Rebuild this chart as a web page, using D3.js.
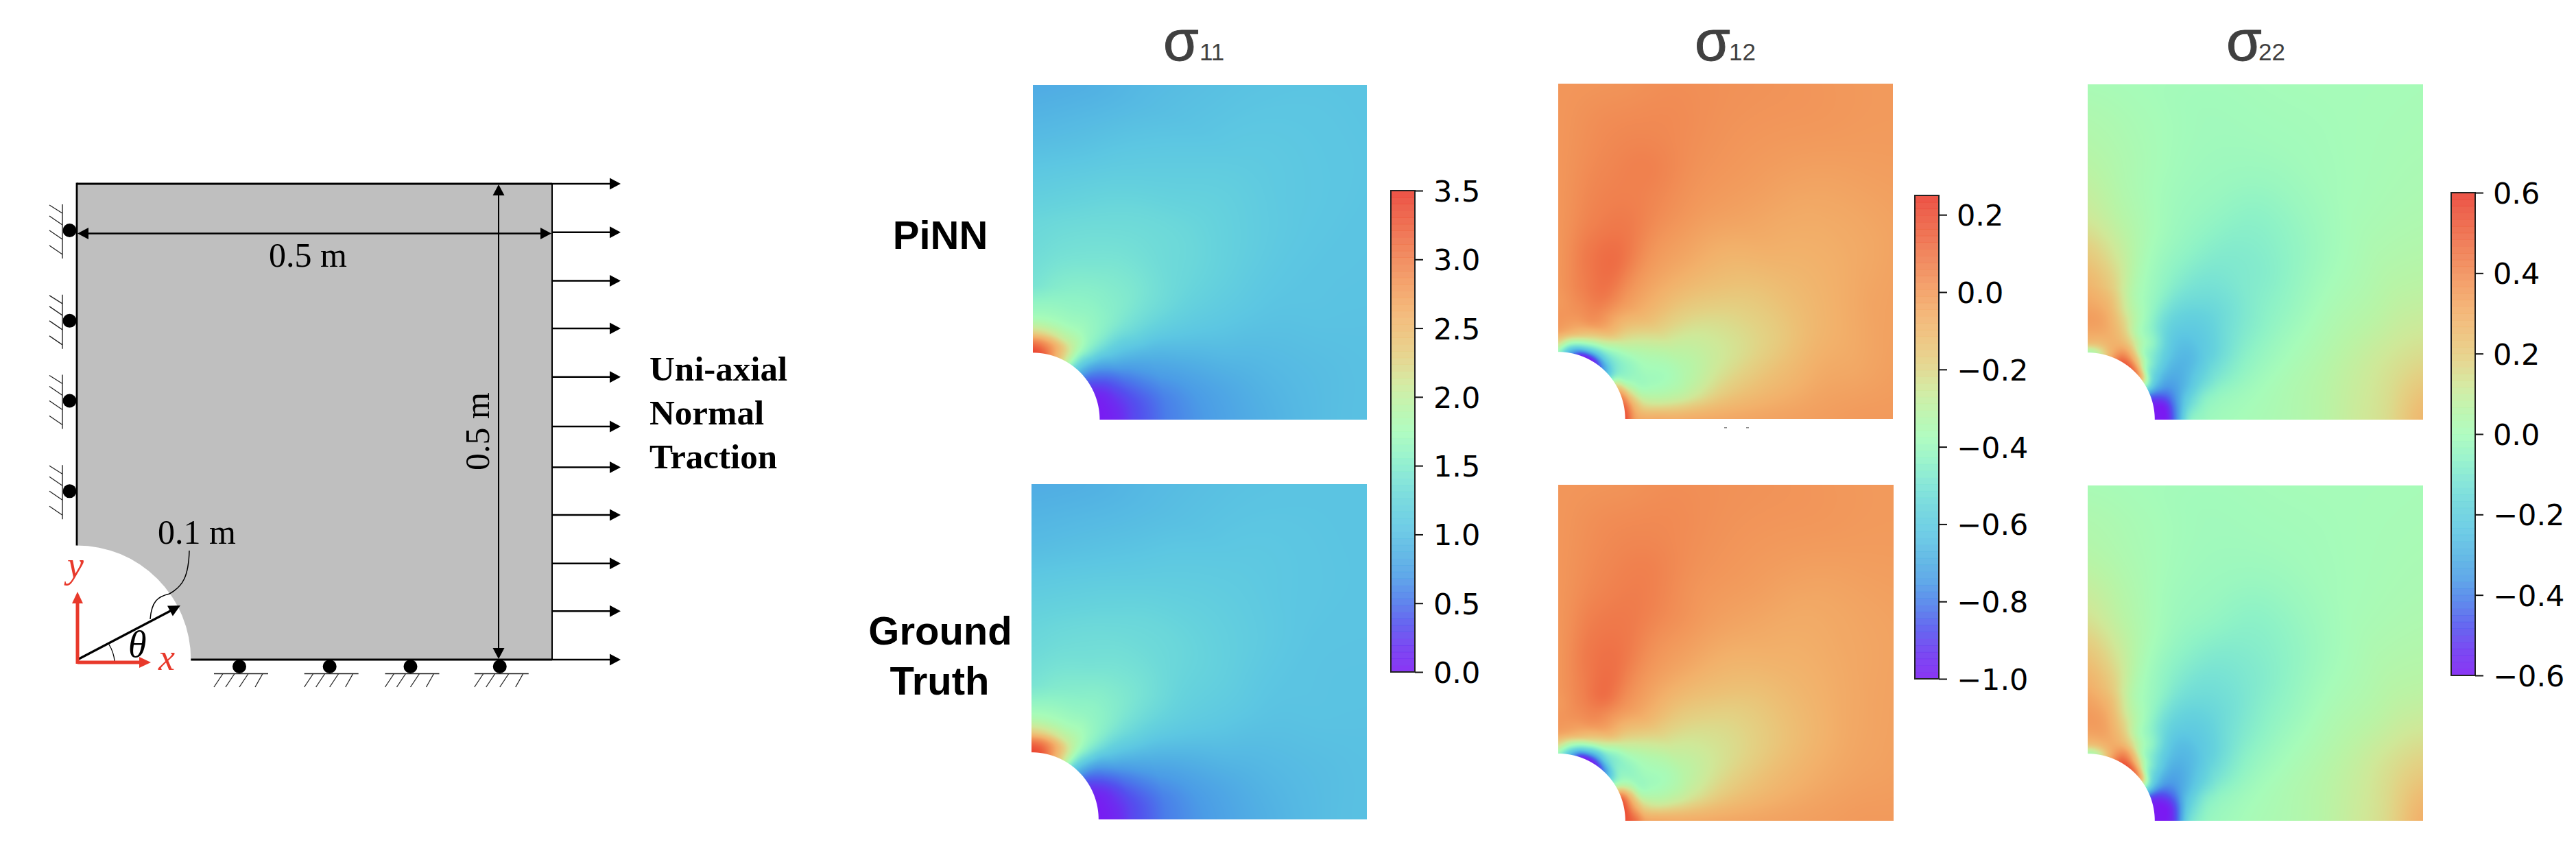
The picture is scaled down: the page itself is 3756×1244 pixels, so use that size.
<!DOCTYPE html>
<html>

<head>
  <meta charset="utf-8">
  <title>Plate with a hole: stress fields, PiNN and ground truth</title>
  <script src="https://d3js.org/d3.v7.min.js"></script>
  <style>
    body {
      margin: 0;
      background: #fff;
    }

    svg {
      display: block;
    }

    .serif {
      font-family: "Liberation Serif", "Times New Roman", serif;
    }

    .sans {
      font-family: "Liberation Sans", Arial, sans-serif;
    }

    .tick text {
      font-family: "DejaVu Sans", sans-serif;
      font-size: 43px;
    }
  </style>
</head>

<body>
  <div id="chart"></div>
  <script>
    // plate diagram, positions in metres (the hole is drawn a bit larger than its 0.1 m label)
    const plateSize = 0.5;
    const holeRadius = 0.1;
    const diagramHole = 0.12;
    const tractionY = [0.5, 0.449, 0.398, 0.348, 0.297, 0.245, 0.202, 0.152, 0.101, 0.051, 0];
    const leftRollerY = [0.451, 0.356, 0.272, 0.177];
    const bottomRollerX = [0.171, 0.266, 0.351, 0.445];
    const tractionLines = ["Uni-axial", "Normal", "Traction"];

    const rowLabels = ["PiNN", "Ground", "Truth"];

    // colour map, position 0-1
    const cmapPos = [0, .05, .1, .15, .2, .25, .3, .35, .4, .45, .5, .55, .6, .65, .7, .75, .8, .85, .9, .95, 1];
    const cmapColors = ["#7a1af2", "#6a30f0", "#5350ee", "#4a78ea", "#4b9ce6", "#52b2e3", "#5cc6e2", "#66d3dc",
      "#78e2d4", "#8ef2c6", "#a6fbb9", "#b8f4a6", "#cfe898", "#e2d284", "#ecc075", "#f2b06a", "#f29a5c",
      "#f08450", "#ee6c44", "#ec5438", "#ea3c2e"];

    // field tables: one row per radius (in hole radii), one column per angle (degrees)
    const rhoStops = [1, 1.15, 1.3, 1.5, 1.75, 2, 2.5, 3, 3.5, 4, 4.5, 5, 6, 7.1];
    const thetaStops = [0, 10, 20, 30, 40, 50, 60, 70, 80, 90];

    const s11Pinn = [
      [.02, .02, .07, .28, .6, 1.2, 2, 2.6, 3.2, 3.45],
      [.06, .08, .16, .38, .7, 1.3, 2, 2.5, 2.85, 3.05],
      [.14, .18, .3, .5, .85, 1.45, 1.9, 2.05, 2.2, 2.3],
      [.3, .32, .45, .68, 1.05, 1.5, 1.72, 1.75, 1.78, 1.8],
      [.42, .45, .6, .82, 1.15, 1.5, 1.62, 1.62, 1.62, 1.6],
      [.55, .58, .72, .92, 1.25, 1.48, 1.55, 1.55, 1.5, 1.42],
      [.68, .72, .85, 1.05, 1.28, 1.42, 1.45, 1.42, 1.38, 1.32],
      [.78, .82, .95, 1.1, 1.25, 1.32, 1.35, 1.33, 1.29, 1.25],
      [.86, .9, .98, 1.1, 1.22, 1.28, 1.28, 1.24, 1.17, 1.12],
      [.93, .95, 1, 1.07, 1.17, 1.22, 1.18, 1.12, 1.04, 1],
      [.98, .98, 1.02, 1.05, 1.12, 1.16, 1.1, 1.03, .95, .9],
      [1, 1, 1.02, 1.04, 1.08, 1.1, 1.03, .96, .87, .82],
      [1, 1, 1.02, 1.03, 1.05, 1.05, 1, .93, .85, .8],
      [1, 1, 1.02, 1.03, 1.03, 1.03, 1, .93, .85, .8]
    ];
    const s11Truth = [
      [.02, .02, .07, .25, .58, 1.15, 2, 2.65, 3.25, 3.45],
      [.06, .08, .15, .36, .68, 1.28, 2, 2.55, 2.95, 3.1],
      [.14, .18, .28, .5, .83, 1.43, 1.9, 2.1, 2.25, 2.35],
      [.3, .32, .45, .68, 1.05, 1.5, 1.75, 1.78, 1.82, 1.85],
      [.42, .45, .6, .84, 1.17, 1.5, 1.62, 1.62, 1.62, 1.6],
      [.55, .58, .72, .94, 1.24, 1.47, 1.55, 1.52, 1.48, 1.42],
      [.68, .72, .85, 1.05, 1.26, 1.4, 1.42, 1.38, 1.35, 1.3],
      [.78, .82, .95, 1.1, 1.22, 1.3, 1.32, 1.3, 1.26, 1.22],
      [.86, .9, .98, 1.1, 1.2, 1.25, 1.25, 1.2, 1.14, 1.1],
      [.93, .95, 1, 1.06, 1.15, 1.18, 1.15, 1.08, 1.02, .98],
      [.98, .98, 1.02, 1.04, 1.1, 1.12, 1.08, 1, .94, .9],
      [1, 1, 1.02, 1.03, 1.06, 1.08, 1.02, .95, .87, .83],
      [1, 1, 1.02, 1.03, 1.04, 1.04, 1, .93, .85, .81],
      [1, 1, 1.02, 1.03, 1.03, 1.03, 1, .93, .85, .81]
    ];

    const s12Pinn = [
      [.2, .15, .03, -.2, -.55, -.8, -.98, -.95, -.7, -.4],
      [-.01, -.08, -.22, -.38, -.48, -.55, -.58, -.5, -.38, -.2],
      [-.05, -.22, -.36, -.41, -.43, -.4, -.3, -.2, -.1, -.03],
      [-.05, -.27, -.38, -.38, -.35, -.25, -.09, 0, 0, .01],
      [-.06, -.28, -.37, -.35, -.27, -.16, -.04, .06, .04, 0],
      [-.05, -.26, -.33, -.3, -.2, -.09, 0, .1, .07, .01],
      [-.04, -.18, -.26, -.25, -.17, -.07, .01, .12, .09, .01],
      [-.03, -.13, -.21, -.2, -.13, -.05, .01, .09, .07, .01],
      [-.02, -.09, -.16, -.15, -.1, -.04, .02, .07, .06, .01],
      [-.01, -.05, -.1, -.1, -.06, -.02, .02, .07, .05, .01],
      [0, -.04, -.06, -.07, -.05, -.01, .02, .05, .04, .01],
      [0, -.02, -.03, -.05, -.04, -.005, .02, .04, .02, .01],
      [0, -.005, -.01, -.02, -.01, .01, .02, .02, .01, .01],
      [0, 0, 0, 0, 0, 0, 0, 0, 0, 0]
    ];
    const s12Truth = [
      [.2, .2, .12, -.28, -.6, -.85, -.98, -.95, -.65, -.4],
      [.12, -.02, -.15, -.36, -.46, -.55, -.62, -.52, -.36, -.2],
      [-.02, -.2, -.36, -.41, -.43, -.42, -.3, -.18, -.08, -.03],
      [-.04, -.27, -.38, -.38, -.35, -.25, -.08, 0, .01, .01],
      [-.05, -.27, -.36, -.34, -.26, -.14, -.02, .07, .05, 0],
      [-.05, -.24, -.31, -.28, -.19, -.07, .02, .12, .07, .01],
      [-.04, -.17, -.24, -.23, -.16, -.06, .02, .11, .09, .01],
      [-.03, -.12, -.19, -.19, -.12, -.04, .02, .09, .08, .01],
      [-.02, -.08, -.14, -.14, -.09, -.03, .03, .08, .06, .01],
      [-.01, -.05, -.09, -.09, -.06, -.02, .02, .07, .05, .01],
      [0, -.03, -.05, -.06, -.05, -.01, .02, .05, .04, .01],
      [0, -.02, -.03, -.04, -.04, -.005, .02, .04, .02, .01],
      [0, -.005, -.01, -.02, -.01, .01, .02, .02, .01, .01],
      [0, 0, 0, 0, 0, 0, 0, 0, 0, 0]
    ];

    const s22Pinn = [
      [-.6, -.6, -.45, -.05, .35, .5, .5, .3, .1, .02],
      [-.6, -.58, -.42, -.2, -.02, .22, .35, .3, .25, .25],
      [-.42, -.42, -.38, -.28, -.12, 0, .18, .27, .31, .32],
      [-.1, -.2, -.3, -.3, -.2, -.05, .03, .2, .32, .35],
      [-.03, -.08, -.2, -.28, -.25, -.15, -.02, .1, .27, .32],
      [-.01, -.04, -.13, -.22, -.23, -.17, -.05, .04, .2, .28],
      [.01, -.01, -.06, -.12, -.16, -.13, -.06, .01, .12, .2],
      [.03, .02, -.02, -.07, -.1, -.1, -.05, 0, .06, .12],
      [.06, .05, .01, -.04, -.08, -.08, -.04, -.01, .03, .08],
      [.11, .09, .04, -.01, -.05, -.06, -.03, -.01, .02, .05],
      [.16, .13, .06, .01, -.02, -.03, -.02, -.01, .01, .03],
      [.27, .16, .08, .03, 0, -.01, -.01, -.01, 0, .01],
      [.28, .16, .07, .03, .01, 0, 0, 0, 0, 0],
      [.28, .16, .06, .02, .01, 0, 0, 0, 0, 0]
    ];
    const s22Truth = [
      [-.6, -.6, -.5, -.08, .35, .52, .52, .32, .1, .02],
      [-.6, -.6, -.48, -.22, -.02, .22, .38, .32, .27, .25],
      [-.5, -.5, -.42, -.3, -.13, 0, .18, .28, .33, .33],
      [-.16, -.24, -.32, -.32, -.22, -.06, .03, .2, .33, .36],
      [-.05, -.1, -.22, -.28, -.26, -.15, -.02, .1, .28, .34],
      [-.02, -.05, -.14, -.22, -.23, -.17, -.05, .04, .21, .3],
      [.01, -.01, -.06, -.12, -.16, -.14, -.07, .01, .13, .22],
      [.03, .02, -.02, -.07, -.11, -.11, -.06, 0, .07, .14],
      [.06, .05, .01, -.04, -.08, -.08, -.04, -.01, .04, .09],
      [.11, .09, .04, -.01, -.05, -.06, -.03, -.01, .02, .05],
      [.17, .14, .06, .01, -.02, -.03, -.02, -.01, .01, .03],
      [.3, .18, .08, .03, 0, -.01, -.01, -.01, 0, .01],
      [.3, .18, .07, .03, .01, 0, 0, 0, 0, 0],
      [.3, .18, .06, .02, .01, 0, 0, 0, 0, 0]
    ];

    // tick labels of the three colour bars
    const s11Ticks = [0, 0.5, 1, 1.5, 2, 2.5, 3, 3.5];
    const s12Ticks = [-1, -0.8, -0.6, -0.4, -0.2, 0, 0.2];
    const s22Ticks = [-0.6, -0.4, -0.2, 0, 0.2, 0.4, 0.6];

    const columns = [
      { name: "11", x: 1696, subX: 1749, domain: [0, 3.5], ticks: s11Ticks, fmt: d3.format(".1f"),
        bar: { x: 2028, top: 278, bottom: 980 }, labelX: 2090,
        pinn: { table: s11Pinn, box: [1506, 1993, 124, 612] }, truth: { table: s11Truth, box: [1504, 1993, 706, 1195] } },
      { name: "12", x: 2471, subX: 2521, domain: [-1, 0.25], ticks: s12Ticks, fmt: d3.format(".1f"),
        bar: { x: 2792, top: 285, bottom: 990 }, labelX: 2853,
        pinn: { table: s12Pinn, box: [2272, 2760, 122, 611] }, truth: { table: s12Truth, box: [2272, 2761, 707, 1197] } },
      { name: "22", x: 3246, subX: 3293, domain: [-0.6, 0.6], ticks: s22Ticks, fmt: d3.format(".1f"),
        bar: { x: 3574, top: 281, bottom: 985 }, labelX: 3635,
        pinn: { table: s22Pinn, box: [3044, 3533, 123, 612] }, truth: { table: s22Truth, box: [3044, 3533, 708, 1197] } }
    ];

    const svg = d3.select("#chart").append("svg")
      .attr("width", 3756)
      .attr("height", 1244)
      .attr("viewBox", [0, 0, 3756, 1244]);

    // ---- plate diagram ----
    const px = d3.scaleLinear().domain([0, plateSize]).range([112, 805]);
    const py = d3.scaleLinear().domain([0, plateSize]).range([962, 268]);
    const diagram = svg.append("g");

    function triangle(g, x, y, angle, len, halfW, fill) {
      // tip sits on x,y
      g.append("path")
        .attr("d", `M0,0L${-len},${-halfW}L${-len},${halfW}Z`)
        .attr("transform", `translate(${x},${y}) rotate(${angle})`)
        .attr("fill", fill);
    }

    function seg(g, x1, y1, x2, y2, w, stroke) {
      g.append("line")
        .attr("x1", x1).attr("y1", y1).attr("x2", x2).attr("y2", y2)
        .attr("stroke", stroke || "#000").attr("stroke-width", w);
    }

    const rx = px(diagramHole) - px(0);
    const ry = py(0) - py(diagramHole);
    diagram.append("path")
      .attr("d", `M${px(0)},${py(plateSize)}H${px(plateSize)}V${py(0)}H${px(diagramHole)}` +
        `A${rx},${ry} 0 0 0 ${px(0)},${py(diagramHole)}Z`)
      .attr("fill", "#bfbfbf");
    seg(diagram, px(0), py(plateSize), px(plateSize), py(plateSize), 3);
    seg(diagram, px(0), py(plateSize) - 1.5, px(0), py(diagramHole), 2.8);
    seg(diagram, px(plateSize), py(plateSize), px(plateSize), py(0), 2);
    seg(diagram, px(diagramHole), py(0), px(plateSize), py(0), 3);

    tractionY.forEach(d => {
      seg(diagram, px(plateSize), py(d), 895, py(d), 2.5);
      triangle(diagram, 905, py(d), 0, 16, 8.5, "#000");
    });

    leftRollerY.forEach(d => {
      const y = py(d);
      diagram.append("circle").attr("cx", 101.5).attr("cy", y).attr("r", 10).attr("fill", "#000");
      seg(diagram, 91, y - 38, 91, y + 41, 1.5, "#333");
      [[-37, -25], [-21, -8], [0, 13], [22, 35]].forEach(t => seg(diagram, 72, y + t[0], 91, y + t[1], 1.3, "#222"));
    });

    bottomRollerX.forEach(d => {
      const x = px(d);
      diagram.append("circle").attr("cx", x).attr("cy", 972).attr("r", 10).attr("fill", "#000");
      seg(diagram, x - 37, 982.5, x + 42, 982.5, 1.5, "#222");
      [[-24, -37], [-7, -20], [13, 0], [34, 23]].forEach(t => seg(diagram, x + t[0], 982.5, x + t[1], 1002, 1.3, "#222"));
    });

    // dimension arrows
    seg(diagram, 125, 340.5, 792, 340.5, 2.7);
    triangle(diagram, 113, 340.5, 180, 16, 8.5, "#000");
    triangle(diagram, 804, 340.5, 0, 16, 8.5, "#000");
    seg(diagram, 727, 282, 727, 948, 2);
    triangle(diagram, 727, 269, -90, 16, 8.5, "#000");
    triangle(diagram, 727, 961, 90, 16, 8.5, "#000");

    diagram.append("text").attr("class", "serif").attr("x", 392).attr("y", 389)
      .attr("font-size", 50).text("0.5 m");
    diagram.append("text").attr("class", "serif")
      .attr("transform", "translate(713,686) rotate(-90)")
      .attr("font-size", 50).text("0.5 m");
    diagram.append("text").attr("class", "serif").attr("x", 230).attr("y", 793)
      .attr("font-size", 50).text("0.1 m");

    tractionLines.forEach((d, i) => {
      diagram.append("text").attr("class", "serif").attr("x", 947).attr("y", 555 + i * 64)
        .attr("font-size", 51).attr("font-weight", "bold").text(d);
    });

    // radius arrow, angle arc, leader
    seg(diagram, 113, 962, 254, 888, 3.2);
    triangle(diagram, 263, 883, -27.7, 17, 8.5, "#000");
    diagram.append("path").attr("d", "M159,940A55,55 0 0 1 167,964").attr("fill", "none")
      .attr("stroke", "#000").attr("stroke-width", 1.3);
    diagram.append("path")
      .attr("d", "M276,803C275,840 267,855 247,866C230,870 221,877 219,903")
      .attr("fill", "none").attr("stroke", "#000").attr("stroke-width", 1.5);

    // red x, y axes
    const red = "#e8392b";
    seg(diagram, 113, 966, 205, 966, 5, red);
    triangle(diagram, 220, 966, 0, 17, 8, red);
    seg(diagram, 113, 968, 113, 878, 5, red);
    triangle(diagram, 113, 863, -90, 17, 8, red);
    diagram.append("text").attr("class", "serif").attr("x", 98).attr("y", 842)
      .attr("font-size", 54).attr("font-style", "italic").attr("fill", red).text("y");
    diagram.append("text").attr("class", "serif").attr("x", 231).attr("y", 977)
      .attr("font-size", 54).attr("font-style", "italic").attr("fill", red).text("x");
    diagram.append("text").attr("class", "serif").attr("x", 187).attr("y", 958)
      .attr("font-size", 54).attr("font-style", "italic").text("θ");

    // ---- row labels ----
    const rowY = [363, 939.5, 1013];
    rowLabels.forEach((d, i) => {
      svg.append("text").attr("class", "sans")
        .attr("x", [1371, 1371, 1370][i]).attr("y", rowY[i])
        .attr("text-anchor", "middle")
        .attr("font-size", 58).attr("font-weight", "bold").text(d);
    });

    // ---- heat maps ----
    const colorAt = d3.scaleLinear().domain(cmapPos).range(cmapColors).clamp(true);
    const lut = d3.range(1024).map(i => d3.rgb(colorAt(i / 1023)));
    const rhoIndex = d3.scaleLinear().domain(rhoStops).range(d3.range(rhoStops.length)).clamp(true);
    const thetaIndex = d3.scaleLinear().domain(thetaStops).range(d3.range(thetaStops.length)).clamp(true);

    function cubic(a, b, c, d, t) {
      return b + 0.5 * t * (c - a + t * (2 * a - 5 * b + 4 * c - d + t * (3 * (b - c) + d - a)));
    }

    function sample(table, r, a) {
      const i = Math.min(Math.floor(r), table.length - 2), fi = r - i;
      const j = Math.min(Math.floor(a), table[0].length - 2), fj = a - j;
      const row = k => {
        const q = table[Math.max(0, Math.min(table.length - 1, k))];
        const at = n => q[Math.max(0, Math.min(q.length - 1, n))];
        return cubic(at(j - 1), at(j), at(j + 1), at(j + 2), fj);
      };
      return cubic(row(i - 1), row(i), row(i + 1), row(i + 2), fi);
    }

    function drawField(table, box, domain) {
      const [x0, x1, y0, y1] = box;
      const w = x1 - x0, h = y1 - y0;
      const toX = d3.scaleLinear().domain([0, w]).range([0, plateSize / holeRadius]);
      const toY = d3.scaleLinear().domain([h, 0]).range([0, plateSize / holeRadius]);
      const toPos = d3.scaleLinear().domain(domain).range([0, 1]).clamp(true);
      const canvas = document.createElement("canvas");
      canvas.width = w;
      canvas.height = h;
      const ctx = canvas.getContext("2d");
      const img = ctx.createImageData(w, h);
      for (let py_ = 0; py_ < h; py_++) {
        const v = toY(py_ + 0.5);
        for (let px_ = 0; px_ < w; px_++) {
          const u = toX(px_ + 0.5);
          const rho = Math.hypot(u, v);
          const edge = (rho - 1) * w / 5 + 0.5;
          if (edge <= 0) continue;
          const val = sample(table, rhoIndex(rho), thetaIndex(Math.atan2(v, u) * 180 / Math.PI));
          const c = lut[Math.round(toPos(val) * 1023)];
          const o = (py_ * w + px_) * 4;
          img.data[o] = c.r;
          img.data[o + 1] = c.g;
          img.data[o + 2] = c.b;
          img.data[o + 3] = Math.min(1, edge) * 255;
        }
      }
      ctx.putImageData(img, 0, 0);
      svg.append("image")
        .attr("x", x0).attr("y", y0).attr("width", w).attr("height", h)
        .attr("href", canvas.toDataURL());
    }

    columns.forEach(col => {
      drawField(col.pinn.table, col.pinn.box, col.domain);
      drawField(col.truth.table, col.truth.box, col.domain);

      const title = svg.append("text").attr("class", "sans").attr("fill", "#404040").attr("y", 88);
      title.append("tspan").attr("x", col.x).attr("font-size", 84)
        .attr("stroke", "#404040").attr("stroke-width", 1).text("σ");
      title.append("tspan").attr("x", col.subX).attr("font-size", 35).text(col.name);

      // colour bar: bands drawn from the same colour map
      const y = d3.scaleLinear().domain(col.domain).range([col.bar.bottom, col.bar.top]);
      const bands = d3.range(0, 1, 1 / 72);
      const barW = 35;
      const bar = svg.append("g");
      bar.selectAll("rect").data(bands).join("rect")
        .attr("x", col.bar.x).attr("width", barW)
        .attr("y", d => y(col.domain[0] + (d + 1 / 72) * (col.domain[1] - col.domain[0])))
        .attr("height", (col.bar.bottom - col.bar.top) / 72 + 0.5)
        .attr("fill", d => colorAt(d + 1 / 144))
        .attr("fill-opacity", 0.88);
      bar.append("rect")
        .attr("x", col.bar.x).attr("y", col.bar.top).attr("width", barW)
        .attr("height", col.bar.bottom - col.bar.top)
        .attr("fill", "none").attr("stroke", "#222").attr("stroke-width", 2);

      const axis = svg.append("g")
        .attr("transform", `translate(${col.bar.x + barW},0)`)
        .call(d3.axisRight(y).tickValues(col.ticks).tickFormat(d => col.fmt(d).replace("-", "−")).tickSize(12));
      axis.select(".domain").remove();
      axis.selectAll(".tick line").attr("stroke", "#111").attr("stroke-width", 2);
      axis.selectAll(".tick text")
        .attr("x", col.labelX - col.bar.x - barW)
        .attr("dy", "0.36em")
        .attr("fill", "#000");
    });

    // stray marks below the middle top panel
    [[2514, 623], [2546, 623]].forEach(d => {
      svg.append("rect").attr("x", d[0]).attr("y", d[1]).attr("width", 4).attr("height", 1.5).attr("fill", "#888");
    });
  </script>
</body>

</html>
